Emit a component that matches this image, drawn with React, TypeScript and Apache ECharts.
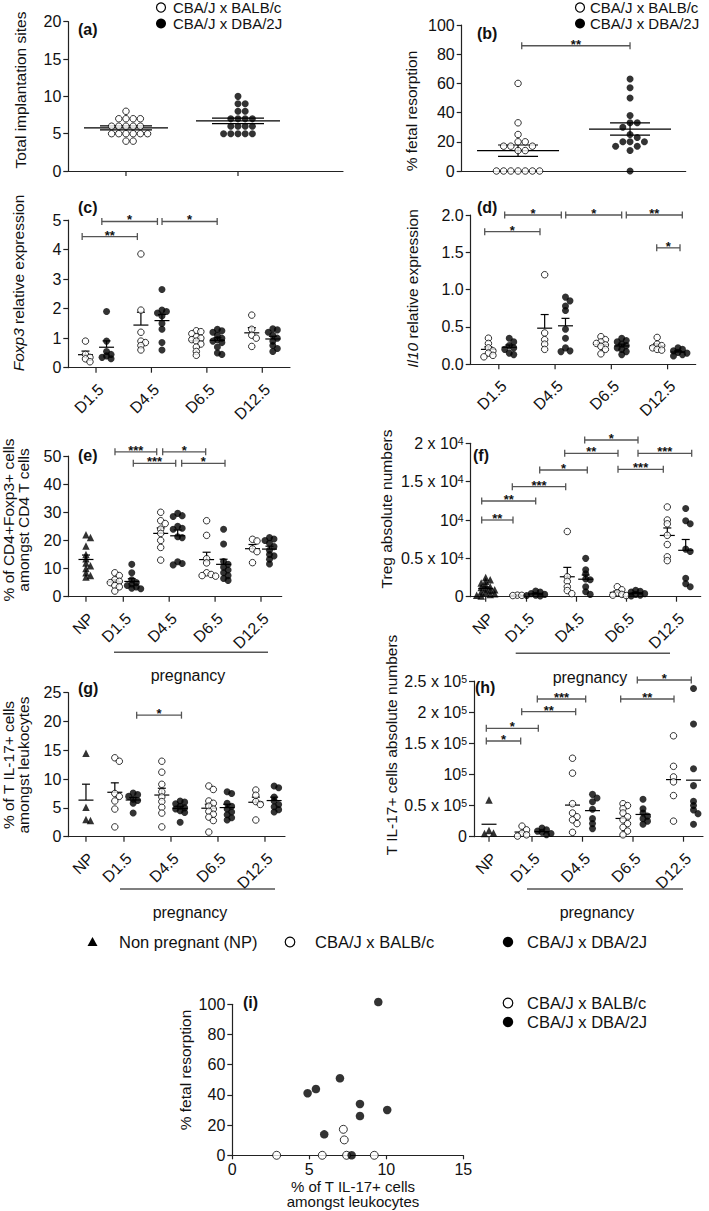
import React, { useEffect, useRef } from "react";
import * as echarts from "echarts";

const FONT = "'Liberation Sans', Arial, Helvetica, sans-serif";
const FS = 15.5;
const FS_TICK = 16;
const FS_LEG = 16.5;
const AX = "#222";
const TXT = "#111";
const BR = "#555";

// ---------------- data ----------------
const strainBalb = "CBA/J x BALB/c";
const strainDba = "CBA/J x DBA/2J";
const days = ["D1.5", "D4.5", "D6.5", "D12.5"];
const npLabel = "NP";

// (a) total implantation sites
const implantBalb = [8, 7, 7, 7, 7, 6, 6, 6, 6, 6, 5, 5, 5, 5, 5, 5, 4, 4];
const implantDba = [10, 9, 9, 8, 8, 7, 7, 7, 7, 6, 6, 6, 6, 5, 5, 5, 5, 5];
// (b) % fetal resorption
const resorpBalb = [60, 33, 25, 20, 20, 17, 17, 17, 14, 14, 0, 0, 0, 0, 0, 0, 0];
const resorpDba = [63, 57, 50, 38, 33, 33, 30, 25, 23, 20, 20, 20, 17, 17, 14, 0];
// (c) Foxp3 relative expression per day
const foxp3Balb = [
  [0.9, 0.45, 0.35, 0.3, 0.2],
  [3.85, 1.95, 1.2, 0.9, 0.85, 0.75, 0.6],
  [1.25, 1.22, 1.15, 1.05, 1.0, 0.95, 0.9, 0.8, 0.7, 0.55, 0.42],
  [1.78, 1.3, 1.1, 1.0, 0.72],
];
const foxp3Dba = [
  [1.9, 0.9, 0.55, 0.45, 0.4, 0.35, 0.3],
  [2.65, 1.95, 1.9, 1.85, 1.75, 1.5, 1.3, 0.85, 0.6],
  [1.3, 1.25, 1.2, 1.1, 1.0, 0.95, 0.9, 0.85, 0.7, 0.5, 0.45],
  [1.32, 1.28, 1.2, 1.1, 1.0, 0.9, 0.75, 0.65, 0.55],
];
// (d) Il10 relative expression
const il10Balb = [
  [0.35, 0.28, 0.22, 0.18, 0.15, 0.12, 0.1],
  [1.2, 0.42, 0.33, 0.27, 0.2],
  [0.37, 0.33, 0.3, 0.28, 0.26, 0.24, 0.2, 0.14],
  [0.36, 0.27, 0.25, 0.22, 0.2, 0.19],
];
const il10Dba = [
  [0.35, 0.3, 0.25, 0.22, 0.2, 0.15, 0.13],
  [0.9, 0.85, 0.78, 0.72, 0.47, 0.35, 0.22, 0.18, 0.17],
  [0.35, 0.32, 0.3, 0.27, 0.25, 0.22, 0.2, 0.17, 0.13],
  [0.22, 0.2, 0.18, 0.16, 0.15, 0.13, 0.11],
];
// (e) % CD4+Foxp3+ amongst CD4 T cells
const tregPctNP = [22, 21, 18, 15, 13.5, 12, 11, 10, 8.5, 7.5, 7];
const tregPctBalb = [
  [8.5, 7.5, 6, 5.5, 5, 4, 3.5, 2],
  [30, 27, 26, 24, 22.5, 20, 17.5, 13],
  [27, 21.8, 13.5, 12, 8.5, 7.9, 7.5, 7.3],
  [20.4, 19.8, 17, 16, 12.1],
];
const tregPctDba = [
  [11.5, 8.5, 6, 5, 4.5, 4, 3.5, 3, 2.8],
  [29.6, 28.8, 28.5, 25, 24.3, 24, 21.3, 21, 12.4, 11.8, 11.3],
  [24, 18.7, 12.5, 11.5, 10.5, 9.5, 8.5, 7.5, 6.5, 5.8],
  [21, 20.5, 20, 19, 17.8, 16.5, 15, 14.5, 13.3, 11.6],
];
// (f) Treg absolute numbers
const tregAbsNP = [2500, 2200, 2000, 1800, 1500, 1300, 1200, 1000, 900, 800, 600, 500, 400, 300, 200, 100];
const tregAbsBalb = [
  [200, 150, 180],
  [8500, 2600, 2000, 1300, 800, 400],
  [1300, 900, 500, 300, 200, 150],
  [11700, 10000, 9500, 8000, 6800, 5200, 4700],
];
const tregAbsDba = [
  [750, 600, 400, 300, 200, 150, 100],
  [5000, 3500, 3000, 2300, 2200, 1300, 650, 300],
  [850, 700, 600, 400, 300, 200, 100],
  [11500, 9900, 9500, 6200, 5900, 2400, 1700, 1300],
];
// (g) % T IL-17+ amongst leukocytes
const th17PctNP = [14.5, 5.1, 3.0, 2.8];
const th17PctBalb = [
  [13.7, 13.1, 7.5, 7.0, 6.2, 4.8, 1.7],
  [13.1, 11.2, 9.1, 7.8, 6.9, 6.1, 5.1, 4.1, 1.7],
  [8.8, 8.2, 6.2, 5.8, 5.3, 4.8, 4.4, 3.9, 3.4, 2.8, 0.8],
  [8.1, 7.2, 6.1, 5.6, 2.9],
];
const th17PctDba = [
  [7.6, 7.3, 7.0, 6.5, 6.3, 5.8, 4.1],
  [6.2, 6.0, 5.7, 5.3, 5.0, 4.8, 4.5, 4.2, 2.5],
  [7.8, 7.5, 5.8, 5.3, 4.8, 4.3, 3.8, 3.3, 2.9],
  [8.8, 8.5, 6.9, 6.2, 5.6, 5.2, 4.7, 4.3],
];
// (h) T IL-17+ absolute numbers
const th17AbsNP = [59000, 10000, 6000, 5000];
const th17AbsBalb = [
  [17000, 11000, 5500, 3000, 1000],
  [126000, 102000, 53000, 38000, 32000, 27000, 21000, 7000],
  [53000, 50000, 45000, 38000, 32000, 27000, 21000, 15000, 9000, 3000],
  [162000, 113000, 96000, 88000, 66000, 25000],
];
const th17AbsDba = [
  [14000, 11000, 9000, 7000, 5000, 3000],
  [68000, 62000, 56000, 44000, 29000, 21000, 13000],
  [60000, 45000, 38000, 33000, 29000, 25000, 20000],
  [238000, 181000, 109000, 82000, 57000, 50000, 43000, 37000, 20000],
];
// (i) correlation: [% T IL-17+ , % fetal resorption]
const corrBalb = [[2.88, 0], [5.84, 0], [7.42, 0], [9.22, 0], [7.21, 17.2], [7.27, 10.2]];
const corrDba = [[9.48, 101.5], [6.99, 51], [5.43, 43.9], [4.89, 41.1], [8.29, 34], [10.06, 30], [8.29, 26], [5.97, 13.9], [7.75, 0]];

// significance brackets: [from group pos, to group pos, height, label]
const bracketsB = [[0.033, 1.0, 85.8, "**"]];
const bracketsC = [[-0.25, 0.746, 4.44, "**"], [0.105, 1.108, 4.95, "*"], [1.191, 2.186, 4.95, "*"]];
const bracketsD = [[-0.251, 0.732, 1.776, "*"], [0.104, 1.111, 2.0, "*"], [1.189, 2.184, 2.0, "*"], [2.266, 3.262, 2.0, "**"], [2.807, 3.221, 1.56, "*"]];
const bracketsE = [[0.819, 1.728, 51.5, "***"], [1.858, 2.795, 51.5, "*"], [1.218, 2.142, 47.4, "***"], [2.272, 3.216, 47.4, "*"]];
const bracketsF = [[0.104, 0.73, 10000, "**"], [0.104, 1.184, 12477, "**"], [0.716, 1.784, 14342, "***"], [1.264, 2.216, 16519, "*"], [1.764, 2.83, 18696, "**"], [2.164, 3.23, 20430, "*"], [2.83, 3.736, 16610, "***"], [3.23, 4.304, 18696, "***"]];
const bracketsG = [[1.27, 2.223, 21.1, "*"]];
const bracketsH = [[0.095, 0.776, 153660, "*"], [0.095, 1.125, 174053, "*"], [0.796, 1.865, 200706, "**"], [1.105, 2.063, 221098, "***"], [2.756, 3.812, 221098, "**"], [3.085, 4.154, 251606, "*"]];

// ---------------- helpers ----------------
const mean = (a: number[]) => a.reduce((s, v) => s + v, 0) / a.length;
const sem = (a: number[]) => {
  const m = mean(a);
  const sd = Math.sqrt(a.reduce((s, v) => s + (v - m) * (v - m), 0) / Math.max(1, a.length - 1));
  return sd / Math.sqrt(a.length);
};

function swarm(vals: number[], pxPerUnit: number, minD: number, step: number): number[] {
  const idx = vals.map((_, i) => i).sort((a, b) => vals[b] - vals[a]);
  const placed: { x: number; y: number }[] = [];
  const out = new Array(vals.length).fill(0);
  for (const i of idx) {
    const y = vals[i] * pxPerUnit;
    for (let k = 0; k < 60; k++) {
      const x = k === 0 ? 0 : (k % 2 === 1 ? 1 : -1) * Math.ceil(k / 2) * step;
      if (placed.every((p) => (p.x - x) ** 2 + (p.y - y) ** 2 >= minD * minD)) {
        out[i] = x;
        placed.push({ x, y });
        break;
      }
    }
  }
  return out;
}

type Group = { u: number; values: number[]; kind: "open" | "filled" | "tri" };

function dayGroups(balb: number[][], dba: number[][], start: number, off: number, np?: { u: number; values: number[] }): Group[] {
  const gs: Group[] = [];
  if (np) gs.push({ u: np.u, values: np.values, kind: "tri" });
  balb.forEach((v, i) => {
    gs.push({ u: start + i - off, values: v, kind: "open" });
    gs.push({ u: start + i + off, values: dba[i], kind: "filled" });
  });
  return gs;
}

const supFmt = (unit: number, exp: string) => (v: number) => {
  if (v === 0) return "0";
  if (v === unit) return "10{sup|" + exp + "}";
  return String(v / unit) + " x 10{sup|" + exp + "}";
};
const supRich = { sup: { fontSize: 10.5, fontFamily: FONT, color: TXT, verticalAlign: "top", lineHeight: 10 } };

const dayTicks = days.map((d, i) => ({ u: i, label: d }));
const npTicks = (npU: number) => [{ u: npU, label: npLabel }, ...days.map((d, i) => ({ u: i + 1, label: d }))];

const panels: any[] = [
  { // (a)
    left: 68.3, top: 21.7, width: 274.7, height: 149.3, xMin: -0.515, xMax: 1.9375, yMin: 0, yMax: 20, yInt: 5,
    ticks: [{ u: 0, label: "" }, { u: 1, label: "" }],
    groups: [{ u: 0, values: implantBalb, kind: "open" }, { u: 1, values: implantDba, kind: "filled" }],
    mean: "wide", meanHalf: 42, semHalf: 26, brackets: [], swarmMin: 7, swarmStep: 7.2,
  },
  { // (b)
    left: 461.7, top: 25, width: 224, height: 146, xMin: -0.503, xMax: 1.497, yMin: 0, yMax: 100, yInt: 20,
    ticks: [],
    groups: [{ u: 0, values: resorpBalb, kind: "open" }, { u: 1, values: resorpDba, kind: "filled" }],
    mean: "wideBar", meanHalf: 41, semHalf: 20, brackets: bracketsB, swarmMin: 7, swarmStep: 7.2,
  },
  { // (c)
    left: 68.3, top: 220, width: 221.7, height: 147.7, xMin: -0.5, xMax: 3.5, yMin: 0, yMax: 5, yInt: 1,
    ticks: dayTicks, groups: dayGroups(foxp3Balb, foxp3Dba, 0, 0.19),
    mean: "up", meanHalf: 7.5, semHalf: 4, brackets: bracketsC, swarmMin: 3.8, swarmStep: 4.5,
  },
  { // (d)
    left: 470.7, top: 215, width: 225, height: 149.3, xMin: -0.5, xMax: 3.5, yMin: 0, yMax: 2, yInt: 0.5,
    yFmt: (v: number) => v.toFixed(1),
    ticks: dayTicks, groups: dayGroups(il10Balb, il10Dba, 0, 0.185),
    mean: "up", meanHalf: 7.5, semHalf: 4, brackets: bracketsD, swarmMin: 3.8, swarmStep: 4.5,
  },
  { // (e)
    left: 68.3, top: 456, width: 213.4, height: 140.7, xMin: -0.198, xMax: 4.451, yMin: 0, yMax: 50, yInt: 10,
    ticks: npTicks(0.187), groups: dayGroups(tregPctBalb, tregPctDba, 1, 0.185, { u: 0.187, values: tregPctNP }),
    mean: "up", meanHalf: 7.5, semHalf: 4, brackets: bracketsE, swarmMin: 3.8, swarmStep: 4.5,
  },
  { // (f)
    left: 470.7, top: 443.3, width: 230, height: 153.4, xMin: -0.116, xMax: 4.484, yMin: 0, yMax: 20000, yInt: 5000,
    yFmt: supFmt(10000, "4"), yRich: supRich,
    ticks: npTicks(0.184), groups: dayGroups(tregAbsBalb, tregAbsDba, 1, 0.184, { u: 0.184, values: tregAbsNP }),
    mean: "up", meanHalf: 7.5, semHalf: 4, brackets: bracketsF, swarmMin: 3.8, swarmStep: 4.5,
  },
  { // (g)
    left: 68.3, top: 692.7, width: 216.7, height: 144, xMin: -0.185, xMax: 4.426, yMin: 0, yMax: 25, yInt: 5,
    ticks: npTicks(0.191), groups: dayGroups(th17PctBalb, th17PctDba, 1, 0.195, { u: 0.191, values: th17PctNP }),
    mean: "up", meanHalf: 7.5, semHalf: 4, brackets: bracketsG, swarmMin: 3.8, swarmStep: 4.5,
  },
  { // (h)
    left: 474, top: 681, width: 229, height: 155.7, xMin: -0.1485, xMax: 4.386, yMin: 0, yMax: 250000, yInt: 50000,
    yFmt: supFmt(100000, "5"), yRich: supRich,
    ticks: npTicks(0.149), groups: dayGroups(th17AbsBalb, th17AbsDba, 1, 0.198, { u: 0.149, values: th17AbsNP }),
    mean: "line", meanHalf: 7.5, semHalf: 4, brackets: bracketsH, swarmMin: 3.8, swarmStep: 4.5,
  },
];

const L = (x1: number, y1: number, x2: number, y2: number, stroke = "#000", lineWidth = 1.2) => ({
  type: "line", shape: { x1, y1, x2, y2 }, style: { stroke, lineWidth },
});

function meanRenderer(p: any) {
  return (params: any, api: any) => {
    const u = api.value(0), m = api.value(1), s = api.value(2);
    const [cx, cy] = api.coord([u, m]);
    const ty = api.coord([u, m + s])[1];
    const by = api.coord([u, m - s])[1];
    const ch: any[] = [L(cx - p.meanHalf, cy, cx + p.meanHalf, cy)];
    if (p.mean === "wide" || p.mean === "wideBar") {
      ch.push(L(cx - p.semHalf, ty, cx + p.semHalf, ty), L(cx - p.semHalf, by, cx + p.semHalf, by));
      if (p.mean === "wideBar") ch.push(L(cx, ty, cx, by));
    } else if (p.mean === "up") {
      ch.push(L(cx, cy, cx, ty), L(cx - p.semHalf, ty, cx + p.semHalf, ty));
    }
    return { type: "group", children: ch };
  };
}

function bracketRenderer(p: any) {
  return (params: any, api: any) => {
    const [x1, y] = api.coord([api.value(0), api.value(2)]);
    const x2 = api.coord([api.value(1), api.value(2)])[0];
    const s = String(p.brackets[params.dataIndex][3]);
    return {
      type: "group",
      children: [
        L(x1, y, x2, y, BR, 1.3),
        L(x1, y - 3.5, x1, y + 3.5, BR, 1.3),
        L(x2, y - 3.5, x2, y + 3.5, BR, 1.3),
        { type: "text", x: (x1 + x2) / 2, y: y - 1.5, style: { text: s, fontSize: 13, fontWeight: "bold", fontFamily: FONT, fill: TXT, align: "center", verticalAlign: "middle" } },
      ],
    };
  };
}

function tickRenderer(p: any) {
  return (params: any, api: any) => {
    const [x, y] = api.coord([api.value(0), api.value(1)]);
    const t = p.ticks[params.dataIndex];
    const ch: any[] = [L(x, y, x, y + 5, AX, 1.2)];
    if (t.label) {
      ch.push({ type: "text", x: x + 5, y: y + 19, rotation: Math.PI / 4, style: { text: t.label, fontSize: FS_TICK, fontFamily: FONT, fill: TXT, align: "right", verticalAlign: "middle" } });
    }
    return { type: "group", children: ch };
  };
}

const txt = (x: number, y: number, text: string, extra: any = {}) => ({
  type: "text", x, y, silent: true,
  style: { text, fontSize: FS, fontFamily: FONT, fill: TXT, align: "left", verticalAlign: "middle", ...extra },
});
const vtxt = (x: number, y: number, text: string, rich?: any) => ({
  type: "text", x, y, rotation: Math.PI / 2, silent: true,
  style: { text, fontSize: FS, fontFamily: FONT, fill: TXT, align: "center", verticalAlign: "middle", lineHeight: 15, rich },
});
const openDot = (cx: number, cy: number, r = 4.8) => ({ type: "circle", shape: { cx, cy, r }, style: { fill: "#fff", stroke: "#000", lineWidth: 1.2 } });
const fillDot = (cx: number, cy: number, r = 5.2) => ({ type: "circle", shape: { cx, cy, r }, style: { fill: "#000" } });
const tri = (cx: number, cy: number, s = 5) => ({ type: "polygon", shape: { points: [[cx, cy - s], [cx + s, cy + s * 0.8], [cx - s, cy + s * 0.8]] }, style: { fill: "#000" } });
const italicRich = { i: { fontStyle: "italic", fontSize: FS, fontFamily: FONT, fill: TXT } };
const leg = { fontSize: FS_LEG };
const legTop = { fontSize: 15 };

function graphics() {
  const bold = { fontWeight: "bold", fontSize: 16 };
  return [
    // legends at top
    openDot(161, 7.5, 4.5), txt(173, 7.5, strainBalb, legTop), fillDot(161, 23.5, 5), txt(173, 23.5, strainDba, legTop),
    openDot(580, 7.5, 4.5), txt(590, 7.5, strainBalb, legTop), fillDot(580, 23.5, 5), txt(590, 23.5, strainDba, legTop),
    // panel letters
    txt(78, 29, "(a)", bold), txt(477, 33, "(b)", bold), txt(78, 207, "(c)", bold), txt(477, 207, "(d)", bold),
    txt(78, 455, "(e)", bold), txt(473, 455, "(f)", bold), txt(78, 688, "(g)", bold), txt(475, 687, "(h)", bold),
    txt(243, 1002, "(i)", bold),
    // axis titles
    vtxt(20.5, 90, "Total implantation sites"),
    vtxt(411, 111, "% fetal resorption"),
    vtxt(18, 283, "{i|Foxp3} relative expression", italicRich),
    vtxt(412.5, 288.5, "{i|Il10} relative expression", italicRich),
    vtxt(16, 520, "% of CD4+Foxp3+ cells\namongst CD4 T cells"),
    vtxt(386, 509, "Treg absolute numbers"),
    vtxt(16, 765, "% of T IL-17+ cells\namongst leukocytes"),
    vtxt(391, 745, "T IL-17+ cells absolute numbers"),
    vtxt(185, 1070, "% fetal resorption"),
    txt(353, 1186.5, "% of T IL-17+ cells", { align: "center", fontSize: 15 }),
    txt(353, 1201.5, "amongst leukocytes", { align: "center", fontSize: 15 }),
    // pregnancy annotations
    L(114, 652.3, 268, 652.3, "#555", 1.5), txt(188, 675, "pregnancy", { align: "center", fontSize: 16 }),
    L(515.7, 653.3, 670, 653.3, "#555", 1.5), txt(590, 677, "pregnancy", { align: "center", fontSize: 16 }),
    L(120, 889, 275, 889, "#555", 1.5), txt(190, 912, "pregnancy", { align: "center", fontSize: 16 }),
    L(527, 889, 683, 889, "#555", 1.5), txt(597, 912, "pregnancy", { align: "center", fontSize: 16 }),
    // middle legend
    tri(92.5, 942), txt(119, 942, "Non pregnant (NP)", leg),
    openDot(290, 942), txt(315, 942, strainBalb, leg),
    fillDot(508, 942), txt(527, 942, strainDba, leg),
    // legend (i)
    openDot(508, 1003), txt(527, 1003, strainBalb, leg),
    fillDot(508, 1022), txt(527, 1022, strainDba, leg),
  ];
}

function buildOption() {
  const grid: any[] = [], xAxis: any[] = [], yAxis: any[] = [], series: any[] = [];
  const axisLine = { show: true, onZero: false, lineStyle: { color: AX, width: 1.2 } };
  const labelStyle = { color: TXT, fontSize: FS_TICK, fontFamily: FONT };
  panels.forEach((p, i) => {
    grid.push({ left: p.left, top: p.top, width: p.width, height: p.height, containLabel: false, outerBoundsMode: "none", show: false });
    xAxis.push({ type: "value", gridIndex: i, min: p.xMin, max: p.xMax, axisLine, axisTick: { show: false }, axisLabel: { show: false }, splitLine: { show: false } });
    yAxis.push({
      type: "value", gridIndex: i, min: p.yMin, max: p.yMax, interval: p.yInt, axisLine,
      axisTick: { show: true, length: 5, lineStyle: { color: AX, width: 1.2 } },
      axisLabel: { ...labelStyle, margin: 7, formatter: p.yFmt, rich: p.yRich },
      splitLine: { show: false },
    });
    const pxY = p.height / (p.yMax - p.yMin);
    p.groups.forEach((g: Group) => {
      const offs = swarm(g.values, pxY, p.swarmMin, p.swarmStep);
      series.push({
        type: "scatter", xAxisIndex: i, yAxisIndex: i, clip: false, silent: true,
        symbol: g.kind === "tri" ? "triangle" : "circle",
        symbolSize: g.kind === "tri" ? 7.5 : g.kind === "open" ? 6.5 : 7,
        itemStyle: g.kind === "open" ? { color: "#fff", borderColor: "#000", borderWidth: 1 } : { color: "#000", borderWidth: 0 },
        data: g.values.map((v, k) => ({ value: [g.u, v], symbolOffset: [offs[k], 0] })),
      });
    });
    series.push({
      type: "custom", xAxisIndex: i, yAxisIndex: i, clip: false, silent: true,
      data: p.groups.map((g: Group) => [g.u, mean(g.values), sem(g.values)]),
      renderItem: meanRenderer(p),
    });
    if (p.brackets.length) {
      series.push({
        type: "custom", xAxisIndex: i, yAxisIndex: i, clip: false, silent: true,
        data: p.brackets.map((b: any[]) => [b[0], b[1], b[2]]),
        renderItem: bracketRenderer(p),
      });
    }
    if (p.ticks.length) {
      series.push({
        type: "custom", xAxisIndex: i, yAxisIndex: i, clip: false, silent: true,
        data: p.ticks.map((t: any) => [t.u, p.yMin]),
        renderItem: tickRenderer(p),
      });
    }
  });
  // panel (i)
  const gi = panels.length;
  grid.push({ left: 232.3, top: 1004.3, width: 231, height: 151, containLabel: false, outerBoundsMode: "none", show: false });
  xAxis.push({
    type: "value", gridIndex: gi, min: 0, max: 15, interval: 5, axisLine,
    axisTick: { show: true, length: 4, lineStyle: { color: AX, width: 1.2 } },
    axisLabel: { ...labelStyle, margin: 6 }, splitLine: { show: false },
  });
  yAxis.push({
    type: "value", gridIndex: gi, min: 0, max: 100, interval: 20, axisLine,
    axisTick: { show: true, length: 5, lineStyle: { color: AX, width: 1.2 } },
    axisLabel: { ...labelStyle, margin: 7 }, splitLine: { show: false },
  });
  series.push({
    type: "scatter", xAxisIndex: gi, yAxisIndex: gi, clip: false, silent: true, symbol: "circle", symbolSize: 8,
    itemStyle: { color: "#fff", borderColor: "#000", borderWidth: 1 }, data: corrBalb,
  });
  series.push({
    type: "scatter", xAxisIndex: gi, yAxisIndex: gi, clip: false, silent: true, symbol: "circle", symbolSize: 8.5,
    itemStyle: { color: "#000", borderWidth: 0 }, data: corrDba,
  });
  return { animation: false, backgroundColor: "#fff", tooltip: { show: false }, grid, xAxis, yAxis, series, graphic: graphics() };
}

export default function App() {
  const ref = useRef<HTMLDivElement>(null);
  useEffect(() => {
    if (!ref.current) return;
    const chart = echarts.init(ref.current, undefined, { renderer: "svg" });
    chart.setOption(buildOption() as any);
    return () => chart.dispose();
  }, []);
  return <div ref={ref} style={{ position: "absolute", left: 0, top: 0, width: 709, height: 1211, background: "#fff" }} />;
}
